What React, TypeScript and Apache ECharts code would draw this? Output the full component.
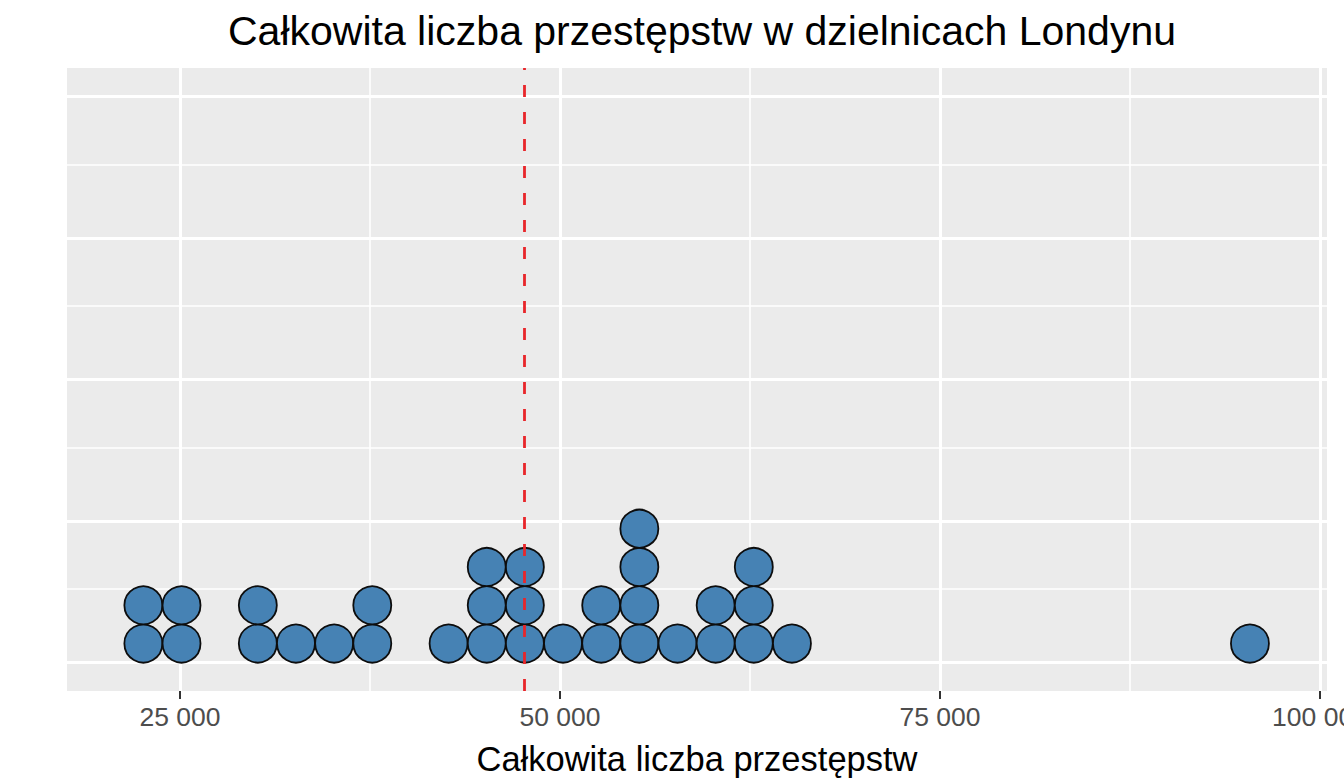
import { useEffect, useRef } from 'react'
import * as echarts from 'echarts'

// bin centres (crimes) and how many boroughs fall in each bin
const BIN_CENTERS = [22590, 25100, 30120, 32630, 35140, 37650, 42670, 45180, 47690, 50200, 52710, 55220, 57730, 60240, 62750, 65260, 95390]
const BIN_COUNTS  = [2, 2, 2, 1, 1, 2, 1, 3, 3, 1, 2, 4, 1, 2, 3, 1, 1]
const MEAN_LINE   = 47650

const X_TICKS    = [25000, 50000, 75000, 100000]
const X_MINOR    = [37500, 62500, 87500]
const Y_MAJOR    = [0, 0.25, 0.5, 0.75, 1]
const Y_MINOR    = [0.125, 0.375, 0.625, 0.875]
const STACK_STEP = 0.0676

const TITLE  = 'Całkowita liczba przestępstw w dzielnicach Londynu'
const X_NAME = 'Całkowita liczba przestępstw'
const FONT   = '"Liberation Sans", Arial, Helvetica, sans-serif'

const fmt = (v: number) => String(v).replace(/\B(?=(\d{3})+(?!\d))/g, ' ')

export default function App() {
  const ref = useRef<HTMLDivElement>(null)

  useEffect(() => {
    if (!ref.current) return
    const chart = echarts.init(ref.current, null, { renderer: 'svg' })

    // stack dots: one point per borough
    const dots: [number, number][] = []
    BIN_CENTERS.forEach((x, i) => {
      for (let k = 0; k < BIN_COUNTS[i]; k++) dots.push([x, (k + 0.5) * STACK_STEP])
    })

    const major = { color: '#ffffff', width: 3, type: 'solid' as const }
    const minor = { color: '#ffffff', width: 1.6, type: 'solid' as const }
    const gridLines = [
      ...X_TICKS.map(v => ({ xAxis: v, lineStyle: major })),
      ...X_MINOR.map(v => ({ xAxis: v, lineStyle: minor })),
      ...Y_MAJOR.map(v => ({ yAxis: v, lineStyle: major })),
      ...Y_MINOR.map(v => ({ yAxis: v, lineStyle: minor })),
    ]

    chart.setOption({
      animation: false,
      backgroundColor: '#ffffff',
      textStyle: { fontFamily: FONT },
      title: {
        text: TITLE,
        left: 697,
        textAlign: 'center',
        top: 5,
        textStyle: { fontSize: 41, fontWeight: 'normal', color: '#000000', fontFamily: FONT },
      },
      grid: {
        left: 67, right: 17, top: 68, bottom: 93,
        outerBoundsMode: 'none',
        containLabel: false,
        show: true, backgroundColor: '#EBEBEB', borderWidth: 0,
      },
      xAxis: {
        type: 'value',
        min: 17566,
        max: 100460,
        name: X_NAME,
        nameLocation: 'middle',
        nameGap: 50,
        nameTextStyle: { fontSize: 34.5, color: '#000000', fontFamily: FONT },
        axisLine: { show: false, onZero: false },
        axisTick: { show: true, customValues: X_TICKS, length: 8, lineStyle: { color: '#333333', width: 2 } },
        axisLabel: {
          customValues: X_TICKS, formatter: (v: number) => fmt(v),
          fontSize: 26.5, color: '#4D4D4D', margin: 12, fontFamily: FONT,
        },
        splitLine: { show: false },
      },
      yAxis: {
        type: 'value',
        min: -0.05,
        max: 1.05,
        axisLine: { show: false, onZero: false },
        axisTick: { show: false },
        axisLabel: { show: false },
        splitLine: { show: false },
      },
      series: [
        {
          // panel grid lines, kept under the dots
          type: 'scatter',
          data: [],
          silent: true,
          z: 0,
          markLine: {
            silent: true,
            z: 0,
            symbol: ['none', 'none'],
            label: { show: false },
            emphasis: { disabled: true },
            data: gridLines,
          },
        },
        {
          type: 'scatter',
          data: dots,
          symbol: 'circle',
          symbolSize: 38,
          z: 3,
          itemStyle: { color: '#4682B4', borderColor: '#0d0d0d', borderWidth: 1.8, opacity: 1 },
        },
        {
          type: 'scatter',
          data: [],
          silent: true,
          z: 10,
          markLine: {
            silent: true,
            z: 10,
            symbol: ['none', 'none'],
            label: { show: false },
            emphasis: { disabled: true },
            lineStyle: { color: '#E8262B', width: 2.8, type: [12, 15] },
            data: [{ xAxis: MEAN_LINE }],
          },
        },
      ],
    })

    return () => chart.dispose()
  }, [])

  return <div ref={ref} style={{ position: 'absolute', left: 0, top: 0, width: 1344, height: 784 }} />
}
